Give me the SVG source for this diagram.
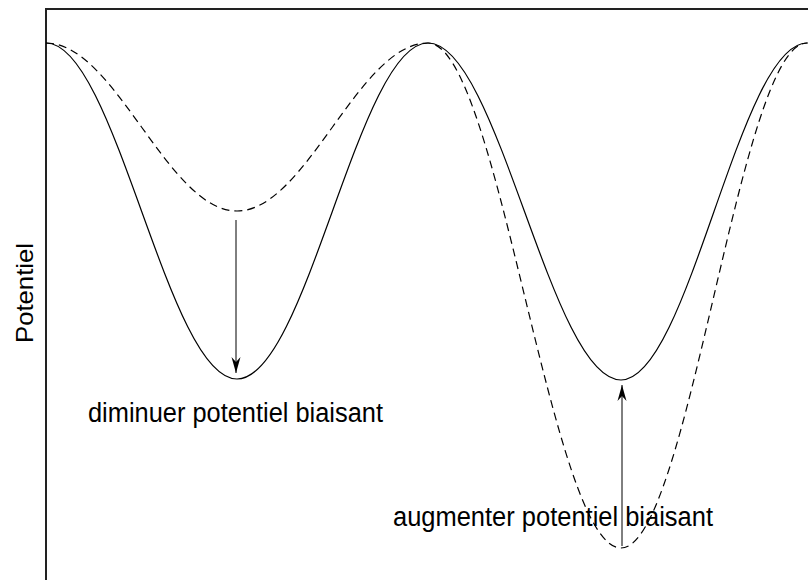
<svg xmlns="http://www.w3.org/2000/svg" width="808" height="580" viewBox="0 0 808 580">
<style>
.frame{fill:none;stroke:#222;stroke-width:2}
.curve{fill:none;stroke:#000;stroke-width:1.2}
.dash{stroke-dasharray:8,5}
.arrow{fill:none;stroke:#000;stroke-width:1}
.lbl{font-family:"Liberation Sans",Arial,sans-serif;fill:#000}
</style>
<defs>
<marker id="ah" markerUnits="userSpaceOnUse" viewBox="0 0 16 10" refX="16" refY="5" markerWidth="16" markerHeight="10" orient="auto">
<path d="M0,0.5 L16,5 L0,9.5 L5,5 z" fill="#000"/>
</marker>
</defs>
<rect id="frame" class="frame" x="46" y="9" width="800" height="600"/>
<g id="curves">
<path id="potential" class="curve" d="M46,43 C115.5,43 167.5,379 237,379 C306.5,379 358.5,43 428,43 C498.2,43 550.8,380 621,380 C688.7,380 739.3,43 807,43 L810,43"/>
<path id="biased" class="curve dash" d="M46,43 C115.5,43 167.5,211 237,211 C306.5,211 358.5,43 428,43 C498.2,43 550.8,548 621,548 C688.7,548 739.3,43 807,43"/>
</g>
<g id="connectors">
<line class="arrow" x1="236" y1="220" x2="236" y2="373" marker-end="url(#ah)"/>
<line class="arrow" x1="622" y1="546" x2="622" y2="385" marker-end="url(#ah)"/>
</g>
<g id="labels">
<text class="lbl" font-size="24" transform="translate(33,293) rotate(-90)" text-anchor="middle" x="0" y="0" textLength="100" lengthAdjust="spacingAndGlyphs">Potentiel</text>
<text class="lbl" font-size="27" x="88" y="422" textLength="295" lengthAdjust="spacingAndGlyphs">diminuer potentiel biaisant</text>
<text class="lbl" font-size="27" x="393" y="526" textLength="320" lengthAdjust="spacingAndGlyphs">augmenter potentiel biaisant</text>
</g>
</svg>
